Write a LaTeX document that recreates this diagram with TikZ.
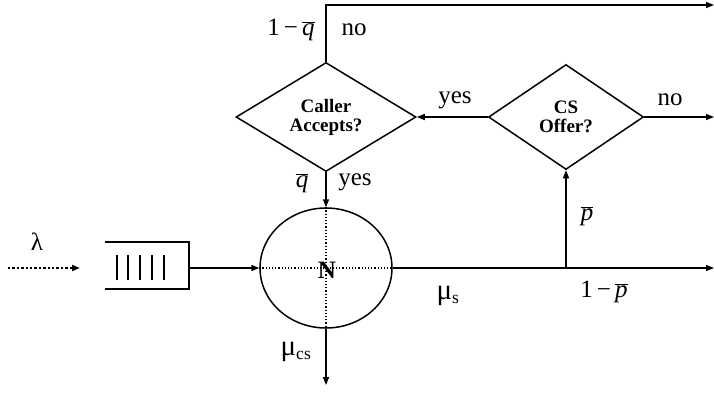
\documentclass[tikz,border=0pt]{standalone}
\usepackage{fontspec}
\setmainfont{Liberation Serif}
\usetikzlibrary{shapes.geometric,arrows.meta}
\tikzset{
  ln/.style={line width=1.5pt},
  arr/.style={ln,-{Triangle[length=8pt,width=6pt]}},
  dec/.style={draw,ln,shape=diamond,inner sep=0pt,font=\fontsize{19}{20}\selectfont\bfseries,align=center},
  lbl/.style={font=\fontsize{25}{27}\selectfont,inner sep=0pt},
  dotl/.style={line width=1.2pt,dotted}
}
\newcommand{\qb}{$\overline{\mbox{\itshape q}}$}
\newcommand{\pb}{$\overline{\mbox{\itshape p}}$}
\newcommand{\mufont}{\fontsize{29}{30}\selectfont}
\begin{document}
\begin{tikzpicture}[x=1pt,y=-1pt]
\useasboundingbox (0,0) rectangle (714,392);
% decisions
\node[dec,minimum width=180pt,minimum height=105pt] (ca) at (326,117) {Caller\\[-1pt]Accepts?};
\node[dec,minimum width=155pt,minimum height=105pt] (cs) at (566,117) {CS\\[-1pt]Offer?};
% server
\node[draw,ln,ellipse,minimum width=132pt,minimum height=120pt,inner sep=0pt] (n) at (326,268) {};
\draw[dotl] (n.west) -- (n.east);
\draw[dotl] (n.north) -- (n.south);
\node[font=\fontsize{25}{26}\selectfont\bfseries,inner sep=0pt] (nl) at (327,270) {N};
% queue
\coordinate (qr) at (189,268);
\draw[ln] (105,242) -- (189,242) -- (189,289) -- (105,289);
\foreach \x in {117,128,140,152,164} \draw[line width=1.1pt] (\x,255) -- (\x,280);
% arrival
\coordinate (a0) at (8,268);
\coordinate (a1) at (80,268);
\draw[line width=2.4pt,dotted,-{Triangle[length=8pt,width=6pt]}] (a0) -- (a1);
\node[lbl] (lam) at (37,242) {λ};
\draw[arr] (qr) -- (n.west);
% out
\coordinate (out) at (714,268);
\coordinate (br) at (566,268);
\draw[arr] (n.east) -- (out);
\draw[arr] (br) -- (cs.south);
\coordinate (dn) at (326,385);
\draw[arr] (n.south) -- (dn);
% decision arrows
\draw[arr] (ca.south) -- (n.north);
\draw[arr] (cs.west) -- (ca.east);
\coordinate (no2) at (714,117);
\draw[arr] (cs.east) -- (no2);
\coordinate (tl) at (326,5);
\coordinate (tr) at (714,5);
\draw[arr] (ca.north) -- (tl) -- (tr);
% labels
\node[lbl] (l1) at (291,30) {1\,−\,\qb};
\node[lbl] (l2) at (354,30) {no};
\node[lbl] (l3) at (302,183) {\qb};
\node[lbl] (l4) at (355,182) {yes};
\node[lbl] (l5) at (455,100) {yes};
\node[lbl] (l6) at (670,100) {no};
\node[lbl] (l7) at (587,216) {\pb};
\node[lbl] (l8) at (604,292) {1\,−\,\pb};
\node[lbl] (l9) at (448,296) {{\mufont μ}\textsubscript{s}};
\node[lbl] (l10) at (296,352) {{\mufont μ}\textsubscript{cs}};
\end{tikzpicture}
\end{document}
